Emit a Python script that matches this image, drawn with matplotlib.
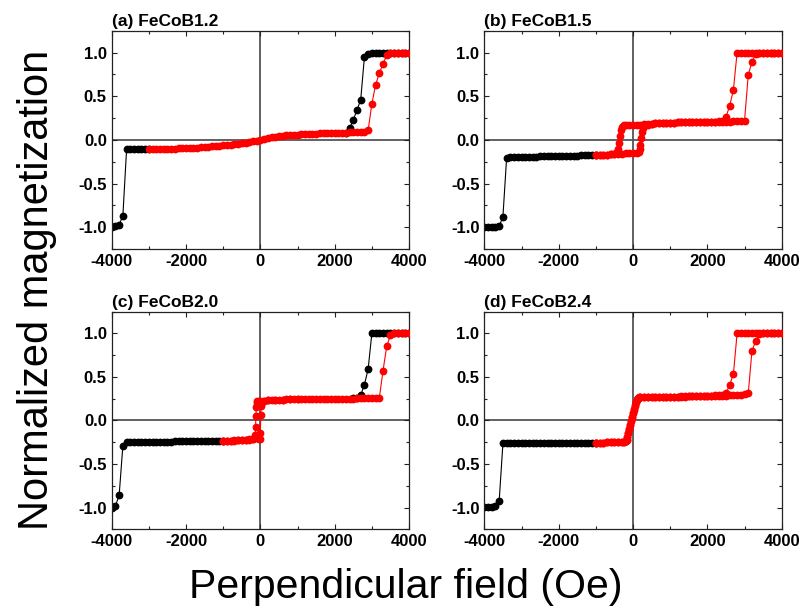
import numpy as np
import matplotlib
matplotlib.use("Agg")
import matplotlib.pyplot as plt
from matplotlib.ticker import MultipleLocator

plt.rcParams['font.family'] = ['Liberation Sans', 'DejaVu Sans']
plt.rcParams['axes.unicode_minus'] = False

# ---- (a) FeCoB1.2 ----
h_a_blk_lo = np.arange(-4000, -2999, 100)
m_a_blk_lo = [-1.00, -0.99, -0.97, -0.87, -0.11, -0.11, -0.11, -0.11, -0.11, -0.11, -0.11]
h_a_blk_hi = np.arange(2300, 4001, 100)
m_a_blk_hi = [0.084, 0.13, 0.23, 0.34, 0.46, 0.95, 0.98, 0.99,
              1.0, 1.0, 1.0, 1.0, 1.0, 1.0, 1.0, 1.0, 1.0, 1.0]
h_a_red = np.arange(-3000, 4001, 100)
m_a_red = [-0.110, -0.109, -0.108, -0.107, -0.106, -0.105, -0.103, -0.101, -0.099, -0.097,
           -0.095, -0.093, -0.090, -0.088, -0.085, -0.082, -0.079, -0.076, -0.072, -0.068,
           -0.064, -0.060, -0.056, -0.051, -0.046, -0.040, -0.034, -0.026, -0.018, -0.009,
           0.000, 0.010, 0.019, 0.027, 0.034, 0.040, 0.045, 0.050, 0.054, 0.058,
           0.061, 0.064, 0.066, 0.068, 0.070, 0.072, 0.074, 0.075, 0.077, 0.078,
           0.080, 0.081, 0.083, 0.084, 0.086, 0.088, 0.090, 0.092, 0.095, 0.110,
           0.410, 0.630, 0.760, 0.870, 0.970, 0.990, 1.0, 1.0, 1.0, 1.0, 1.0]

# ---- (b) FeCoB1.5 ----
h_b_blk = np.arange(-4000, -999, 100)
m_b_blk = [-1.0, -1.0, -1.0, -0.995, -0.99, -0.88, -0.205, -0.200, -0.198, -0.196,
           -0.195, -0.194, -0.193, -0.192, -0.191, -0.190, -0.189, -0.188, -0.187, -0.186,
           -0.185, -0.184, -0.183, -0.182, -0.181, -0.180, -0.179, -0.178, -0.177, -0.176, -0.175]
h_b_up = np.r_[np.arange(-1000, 101, 100), [150, 175, 200, 225, 250, 275], np.arange(300, 4001, 100)]
m_b_up = [-0.175, -0.173, -0.171, -0.169, -0.167, -0.164, -0.160, -0.157, -0.155, -0.153, -0.151, -0.147,
          -0.135, -0.110, -0.060, 0.020, 0.095, 0.140,
          0.160, 0.175, 0.184, 0.188, 0.191, 0.193, 0.195, 0.197, 0.198, 0.199,
          0.200, 0.201, 0.202, 0.203, 0.204, 0.205, 0.206, 0.207, 0.208, 0.208,
          0.209, 0.209, 0.210, 0.210, 0.211, 0.211, 0.212, 0.217, 0.745, 0.890, 0.985,
          1.0, 1.0, 1.0, 1.0, 1.0, 1.0, 1.0]
h_b_dn = np.r_[np.arange(4000, -201, -100), [-250, -275, -300, -325, -350, -375, -400, -425, -450],
               np.arange(-500, -1001, -100)]
m_b_dn = [1.0, 1.0, 1.0, 1.0, 1.0, 1.0, 1.0, 1.0, 1.0, 1.0, 1.0, 1.0, 1.0,
          0.57, 0.39, 0.26, 0.215, 0.212, 0.210, 0.209, 0.207, 0.206, 0.205,
          0.204, 0.203, 0.202, 0.201, 0.200, 0.199, 0.198, 0.197, 0.195, 0.193,
          0.191, 0.188, 0.184, 0.180, 0.177, 0.175, 0.174, 0.173, 0.172, 0.170,
          0.166, 0.160, 0.145, 0.110, 0.040, -0.040, -0.100, -0.140, -0.155,
          -0.162, -0.166, -0.169, -0.171, -0.173, -0.175]

# ---- (c) FeCoB2.0 ----
h_c_blk_lo = np.arange(-4000, -999, 100)
m_c_blk_lo = [-1.0, -0.98, -0.86, -0.29, -0.25, -0.247, -0.246, -0.246, -0.245, -0.245, -0.245,
              -0.244, -0.244, -0.244, -0.243, -0.243, -0.243, -0.242, -0.242, -0.242, -0.241,
              -0.241, -0.241, -0.240, -0.240, -0.240, -0.239, -0.239, -0.239, -0.238, -0.238]
h_c_blk_hi = np.arange(2500, 4001, 100)
m_c_blk_hi = [0.253, 0.255, 0.29, 0.41, 0.59, 1.0, 1.0, 1.0, 1.0, 1.0, 1.0, 1.0, 1.0, 1.0, 1.0, 1.0]
h_c_up = np.r_[np.arange(-1000, -99, 100), [-50, -20, 0, 10, 20, 40], np.arange(100, 4001, 100)]
m_c_up = [-0.236, -0.234, -0.232, -0.230, -0.228, -0.226, -0.222, -0.218, -0.212, -0.205,
          -0.208, -0.215, -0.150, 0.060, 0.170, 0.215,
          0.228, 0.233, 0.236, 0.238, 0.239, 0.240, 0.241, 0.242, 0.243, 0.244,
          0.244, 0.245, 0.245, 0.246, 0.246, 0.247, 0.247, 0.248, 0.248, 0.249,
          0.249, 0.250, 0.250, 0.251, 0.251, 0.252, 0.252, 0.253, 0.253, 0.254, 0.254, 0.255,
          0.57, 0.85, 0.98, 1.0, 1.0, 1.0, 1.0, 1.0]
h_c_dn = np.r_[[1000, 800, 600, 400, 200, 100, 0, -50, -80, -100, -110, -120, -130, -140, -160, -200],
               np.arange(-300, -1001, -100)]
m_c_dn = [0.244, 0.242, 0.240, 0.238, 0.233, 0.228, 0.224, 0.222, 0.218, 0.200, 0.150, 0.055,
          -0.080, -0.170, -0.200, -0.215,
          -0.220, -0.224, -0.227, -0.229, -0.231, -0.233, -0.235, -0.237]

# ---- (d) FeCoB2.4 ----
h_d_blk = np.arange(-4000, -999, 100)
m_d_blk = [-0.99, -0.99, -0.99, -0.98, -0.92, -0.265, -0.265, -0.265, -0.264, -0.264, -0.264,
           -0.263, -0.263, -0.263, -0.262, -0.262, -0.262, -0.261, -0.261, -0.261, -0.260,
           -0.260, -0.260, -0.259, -0.259, -0.259, -0.258, -0.258, -0.257, -0.257, -0.256]
h_d_up = np.r_[np.arange(-1000, -299, 100),
               [-250, -200, -175, -150, -125, -100, -75, -50, -25, 0, 25, 50, 75, 100, 125, 150],
               np.arange(200, 4001, 100)]
m_d_up = [-0.256, -0.255, -0.254, -0.253, -0.252, -0.250, -0.248, -0.246,
          -0.244, -0.238, -0.225, -0.190, -0.140, -0.095, -0.050, -0.005,
          0.040, 0.085, 0.130, 0.175, 0.215, 0.245, 0.260, 0.265,
          0.267, 0.268, 0.269, 0.270,
          0.270, 0.271, 0.271, 0.272, 0.272, 0.273, 0.273, 0.274, 0.274, 0.275,
          0.275, 0.276, 0.277, 0.278, 0.279,
          0.280, 0.281, 0.282, 0.283, 0.285, 0.287, 0.289, 0.292, 0.295, 0.300, 0.310,
          0.80, 0.91, 0.99, 1.0, 1.0, 1.0, 1.0, 1.0, 1.0]
h_d_dn = np.r_[np.arange(4000, 199, -100),
               [150, 125, 100, 75, 50, 25, 0, -25, -50, -75, -100, -125, -150, -175, -200, -250],
               np.arange(-300, -1001, -100)]
m_d_dn = [1.0, 1.0, 1.0, 1.0, 1.0, 1.0, 1.0, 1.0, 1.0, 1.0, 1.0, 1.0, 1.0,
          0.53, 0.41, 0.31, 0.293, 0.289, 0.286, 0.284, 0.282,
          0.281, 0.280, 0.279, 0.278, 0.277, 0.276, 0.275, 0.274, 0.273, 0.272,
          0.272, 0.271, 0.271, 0.270, 0.270, 0.269, 0.268, 0.266,
          0.262, 0.255, 0.240, 0.210, 0.170, 0.125, 0.080, 0.035, -0.010, -0.055,
          -0.100, -0.150, -0.195, -0.228, -0.240, -0.245,
          -0.247, -0.249, -0.251, -0.252, -0.253, -0.254, -0.255, -0.256]

titles = ['(a) FeCoB1.2', '(b) FeCoB1.5', '(c) FeCoB2.0', '(d) FeCoB2.4']
black_sets = [[(h_a_blk_lo, m_a_blk_lo), (h_a_blk_hi, m_a_blk_hi)],
              [(h_b_blk, m_b_blk)],
              [(h_c_blk_lo, m_c_blk_lo), (h_c_blk_hi, m_c_blk_hi)],
              [(h_d_blk, m_d_blk)]]
red_sets = [[(h_a_red, m_a_red)],
            [(h_b_up, m_b_up), (h_b_dn, m_b_dn)],
            [(h_c_up, m_c_up), (h_c_dn, m_c_dn)],
            [(h_d_up, m_d_up), (h_d_dn, m_d_dn)]]

positions = [[0.1393, 0.5918, 0.3707, 0.3579],
             [0.6039, 0.5918, 0.3708, 0.3579],
             [0.1393, 0.1323, 0.3707, 0.3570],
             [0.6039, 0.1323, 0.3708, 0.3570]]

fig = plt.figure(figsize=(8.02, 6.10), dpi=100)

for pos, title, blk, red in zip(positions, titles, black_sets, red_sets):
    ax = fig.add_axes(pos)
    ax.axhline(0, color='#555555', lw=1.3, zorder=1)
    ax.axvline(0, color='#555555', lw=1.3, zorder=1)
    for h, m in blk:
        ax.plot(h, m, '-o', color='black', lw=0.8, ms=4.6, zorder=2)
    for h, m in red:
        ax.plot(h, m, '-o', color='#ff0000', lw=0.8, ms=4.6, zorder=3)
    ax.set_xlim(-4000, 4000)
    ax.set_ylim(-1.25, 1.25)
    ax.set_xticks([-4000, -2000, 0, 2000, 4000])
    ax.set_yticks([-1.0, -0.5, 0.0, 0.5, 1.0])
    ax.set_yticklabels(['-1.0', '-0.5', '0.0', '0.5', '1.0'])
    ax.xaxis.set_minor_locator(MultipleLocator(1000))
    ax.yaxis.set_minor_locator(MultipleLocator(0.25))
    ax.tick_params(which='both', direction='in', top=True, right=True,
                   width=0.8, color='#222222', labelsize=12, pad=3.5)
    ax.tick_params(which='major', length=3.5)
    ax.tick_params(which='minor', length=2.5)
    for lab in ax.get_xticklabels() + ax.get_yticklabels():
        lab.set_fontweight('bold')
    for sp in ax.spines.values():
        sp.set_color('#222222')
        sp.set_linewidth(0.9)
    ax.text(0, 1.022, title, transform=ax.transAxes, ha='left', va='baseline',
            fontsize=12.5, fontweight='bold')

fig.text(0.046, 0.525, 'Normalized magnetization', rotation=90, fontsize=30,
         ha='center', va='center')
fig.text(0.506, 0.0197, 'Perpendicular field (Oe)', fontsize=29.5,
         ha='center', va='baseline')

fig.savefig('out.png', dpi=100)
